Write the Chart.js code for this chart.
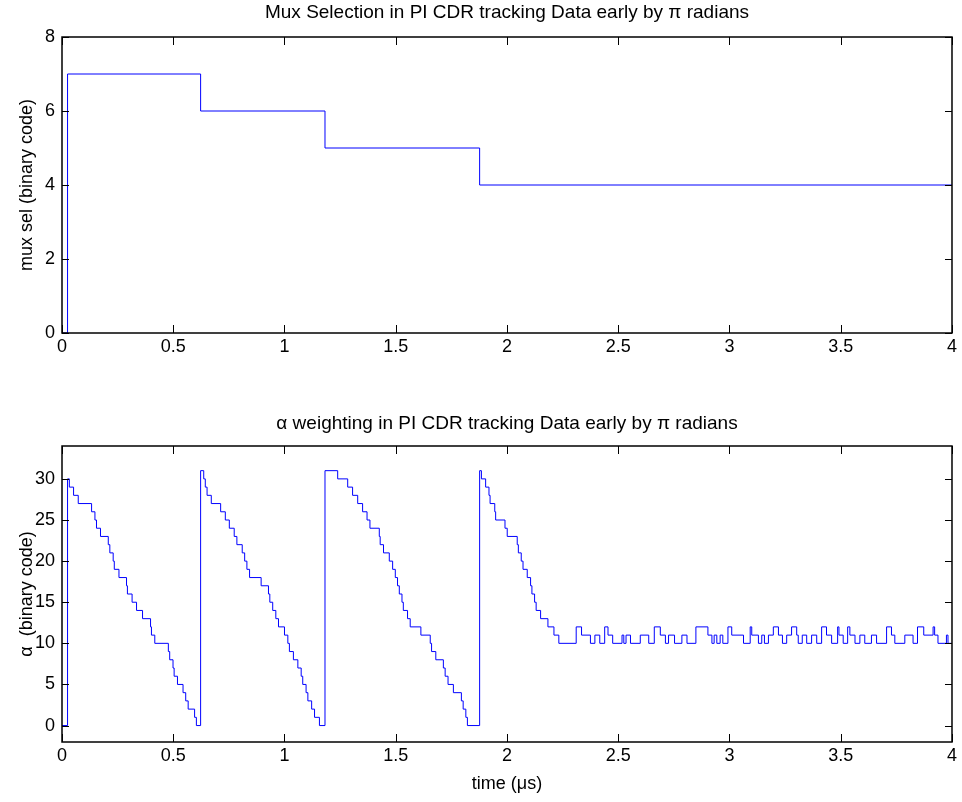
<!DOCTYPE html>
<html>
<head>
<meta charset="utf-8">
<script src="https://cdn.jsdelivr.net/npm/chart.js@4.4.1/dist/chart.umd.min.js"></script>
<style>
  body { margin: 0; background: #fff; }
  #wrap { position: relative; width: 962px; height: 802px; }
  canvas { position: absolute; left: 0; }
</style>
</head>
<body>
<div id="wrap">
  <canvas id="mux-canvas" width="962" height="401" style="top:0"></canvas>
  <canvas id="alpha-canvas" width="962" height="401" style="top:401px"></canvas>
</div>
<script>
// tick positions
const xTicks = [0, 0.5, 1, 1.5, 2, 2.5, 3, 3.5, 4]
const muxTicks = [0, 2, 4, 6, 8]
const alphaTicks = [0, 5, 10, 15, 20, 25, 30]

// mux select: each value holds from its time (us) until the next one
const muxTime = [0, 0.025, 0.623, 1.182, 1.877, 4]
const muxSel = [0, 7, 6, 5, 4, 4]

// alpha weighting code, same stair convention
const alphaTime = [
  0, 0.025, 0.033, 0.052, 0.073, 0.133, 0.148, 0.155, 0.173, 0.208, 0.215, 0.230, 0.235, 0.256, 0.290, 0.294,
  0.315, 0.335, 0.362, 0.398, 0.402, 0.417, 0.478, 0.484, 0.499, 0.504, 0.519, 0.544, 0.556, 0.567, 0.596, 0.604,
  0.623, 0.637, 0.644, 0.652, 0.671, 0.713, 0.734, 0.752, 0.774, 0.786, 0.810, 0.821, 0.831, 0.843, 0.895, 0.928,
  0.934, 0.947, 0.961, 0.973, 1.000, 1.015, 1.022, 1.040, 1.060, 1.075, 1.082, 1.097, 1.105, 1.122, 1.135, 1.157,
  1.182, 1.239, 1.284, 1.306, 1.329, 1.351, 1.371, 1.384, 1.426, 1.430, 1.445, 1.471, 1.486, 1.498, 1.508, 1.516,
  1.528, 1.534, 1.553, 1.565, 1.613, 1.655, 1.661, 1.680, 1.714, 1.722, 1.735, 1.759, 1.795, 1.803, 1.815, 1.822,
  1.877, 1.885, 1.904, 1.919, 1.924, 1.945, 1.949, 1.991, 2.001, 2.046, 2.051, 2.064, 2.072, 2.091, 2.106, 2.112,
  2.124, 2.131, 2.151, 2.184, 2.211, 2.233,
  2.311, 2.335, 2.375, 2.395, 2.417, 2.439, 2.454, 2.475, 2.517, 2.525, 2.535, 2.555, 2.599, 2.637, 2.662, 2.689,
  2.712, 2.726, 2.753, 2.786, 2.809, 2.849, 2.903, 2.921, 2.931, 2.943, 2.958, 2.970, 2.993, 3.010, 3.063, 3.093,
  3.100, 3.130, 3.145, 3.157, 3.175, 3.197, 3.220, 3.238, 3.257, 3.279, 3.302, 3.309, 3.327, 3.347, 3.369, 3.392,
  3.414, 3.436, 3.459, 3.486, 3.492, 3.511, 3.531, 3.541, 3.564, 3.586, 3.608, 3.638, 3.661, 3.706, 3.728, 3.743,
  3.788, 3.825, 3.845, 3.873, 3.915, 3.922, 3.937, 3.975, 3.982, 4.000
]
const alphaCode = [
  0, 30, 29, 28, 27, 26, 25, 24, 23, 22, 21, 20, 19, 18, 17, 16,
  15, 14, 13, 12, 11, 10, 9, 8, 7, 6, 5, 4, 3, 2, 1, 0,
  31, 30, 29, 28, 27, 26, 25, 24, 23, 22, 21, 20, 19, 18, 17, 16,
  15, 14, 13, 12, 11, 10, 9, 8, 7, 6, 5, 4, 3, 2, 1, 0,
  31, 30, 29, 28, 27, 26, 25, 24, 23, 22, 21, 20, 19, 18, 17, 16,
  15, 14, 13, 12, 11, 10, 9, 8, 7, 6, 5, 4, 3, 2, 1, 0,
  31, 30, 29, 28, 27, 26, 25, 24, 23, 22, 21, 20, 19, 18, 17, 16,
  15, 14, 13, 12, 11, 10,
  12, 11, 10, 11, 10, 12, 11, 10, 11, 10, 11, 10, 11, 10, 12, 11,
  10, 11, 10, 11, 10, 12, 11, 10, 11, 10, 11, 10, 12, 11, 10, 12,
  11, 10, 11, 10, 11, 12, 11, 10, 11, 12, 11, 10, 11, 10, 11, 10,
  12, 11, 10, 12, 11, 10, 12, 11, 10, 11, 10, 11, 10, 12, 11, 10,
  11, 10, 12, 11, 12, 11, 10, 11, 10, 10
]

const family = "'Liberation Sans', Arial, Helvetica, sans-serif"

// matlab-like box with inward ticks on every side
const boxTicks = {
  id: 'boxTicks',
  afterDraw(chart) {
    const {ctx, chartArea: a, scales} = chart
    ctx.save()
    ctx.strokeStyle = '#000'
    ctx.lineWidth = 1
    ctx.beginPath()
    scales.x.ticks.forEach(t => {
      let px = Math.round(scales.x.getPixelForValue(t.value)) + 0.5
      ctx.moveTo(px, a.bottom); ctx.lineTo(px, a.bottom - 8)
      ctx.moveTo(px, a.top); ctx.lineTo(px, a.top + 8)
    })
    scales.y.ticks.forEach(t => {
      let py = Math.round(scales.y.getPixelForValue(t.value)) + 0.5
      ctx.moveTo(a.left, py); ctx.lineTo(a.left + 7, py)
      ctx.moveTo(a.right, py); ctx.lineTo(a.right - 7, py)
    })
    ctx.stroke()
    ctx.lineWidth = 1.5
    ctx.strokeRect(a.left, a.top, a.right - a.left, a.bottom - a.top)
    ctx.restore()
  }
}

function initPlot(id, o)
{
  let points = o.time.map((t, i) => ({x: t, y: o.values[i]}))
  return new Chart(document.getElementById(id), {
    type: 'line',
    data: {
      datasets: [{
        data: points,
        stepped: true,
        borderColor: '#0000ff',
        borderWidth: 1,
        pointRadius: 0,
        fill: false
      }]
    },
    options: {
      responsive: false,
      animation: false,
      devicePixelRatio: 1,
      layout: { padding: { left: 0, right: 8, top: 0, bottom: 0 } },
      plugins: {
        legend: { display: false },
        tooltip: { enabled: false },
        title: {
          display: true,
          text: o.title,
          color: '#000',
          fullSize: false,
          font: { family: family, size: 19, weight: 'normal', lineHeight: 1 },
          padding: o.titlePad
        }
      },
      scales: {
        x: {
          type: 'linear',
          min: 0,
          max: 4,
          grid: { display: false, drawTicks: false },
          border: { display: false },
          afterBuildTicks: s => { s.ticks = xTicks.map(v => ({value: v})) },
          afterFit: s => { s.height = o.xHeight },
          ticks: {
            color: '#000',
            padding: 5,
            maxRotation: 0,
            autoSkip: false,
            font: { family: family, size: 18, lineHeight: 1 },
            callback: v => String(v)
          },
          title: {
            display: !!o.xLabel,
            text: o.xLabel || '',
            color: '#000',
            font: { family: family, size: 18, lineHeight: 1 },
            padding: { top: 0, bottom: 9 }
          }
        },
        y: {
          min: o.yMin,
          max: o.yMax,
          grid: { display: false, drawTicks: false },
          border: { display: false },
          afterBuildTicks: s => { s.ticks = o.yTicks.map(v => ({value: v})) },
          afterFit: s => { s.width = 62 },
          ticks: {
            color: '#000',
            padding: 7,
            autoSkip: false,
            font: { family: family, size: 18, lineHeight: 1 },
            callback: v => String(v)
          },
          title: {
            display: true,
            text: o.yLabel,
            color: '#000',
            font: { family: family, size: 18, lineHeight: 1 },
            padding: { top: 18, bottom: 0 }
          }
        }
      }
    },
    plugins: [boxTicks]
  })
}

initPlot('mux-canvas', {
  time: muxTime, values: muxSel,
  title: 'Mux Selection in PI CDR tracking Data early by \u03c0 radians',
  titlePad: { top: 3.5, bottom: 14.5 },
  yLabel: 'mux sel (binary code)',
  yMin: 0, yMax: 8, yTicks: muxTicks,
  xHeight: 68
})

initPlot('alpha-canvas', {
  time: alphaTime, values: alphaCode,
  title: '\u03b1 weighting in PI CDR tracking Data early by \u03c0 radians',
  titlePad: { top: 13.5, bottom: 12.5 },
  yLabel: '\u03b1  (binary code)',
  xLabel: 'time (\u03bcs)',
  yMin: -2, yMax: 34, yTicks: alphaTicks,
  xHeight: 60
})
</script>
</body>
</html>
